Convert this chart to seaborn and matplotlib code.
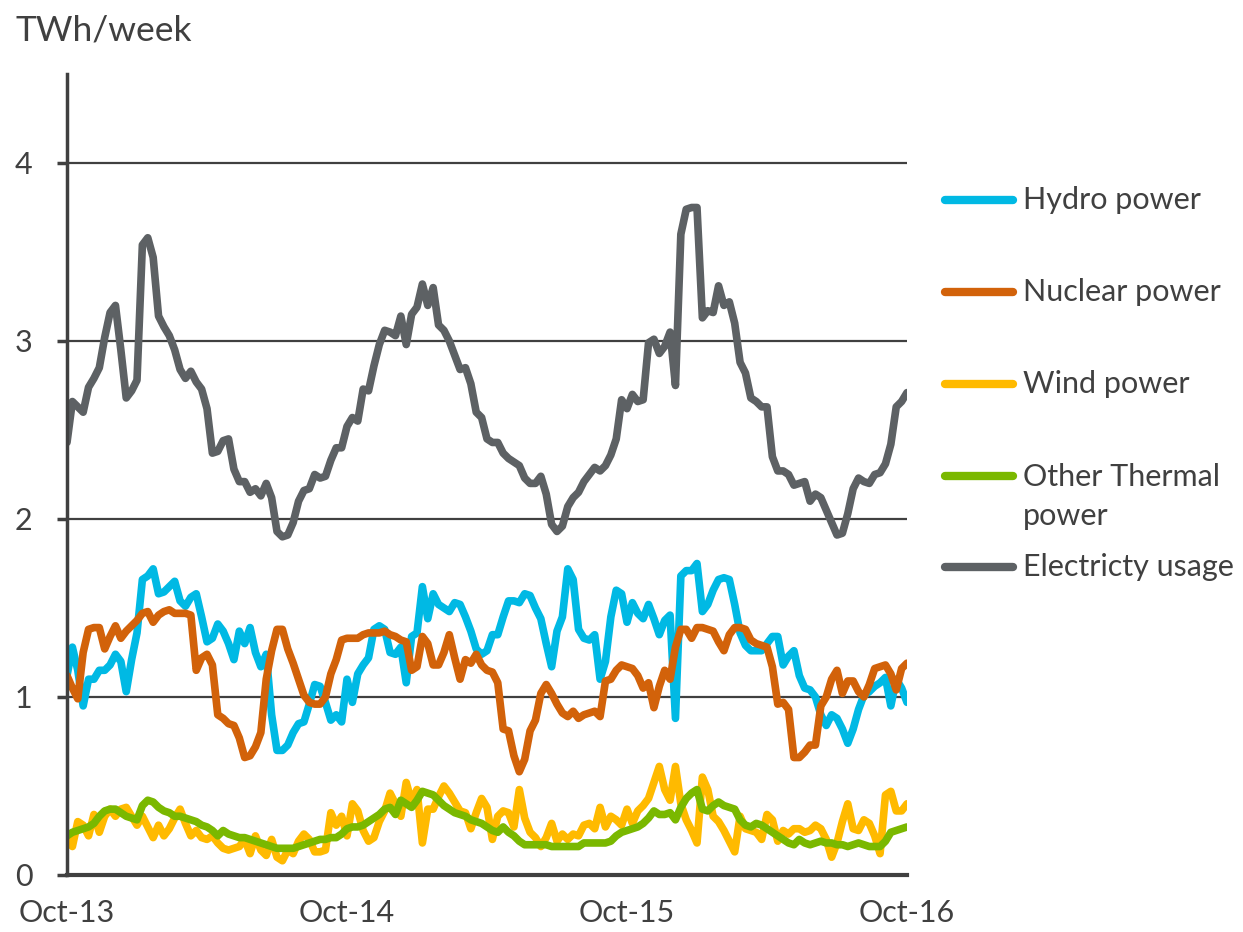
import numpy as np
import pandas as pd
import seaborn as sns
import matplotlib.pyplot as plt
from matplotlib.lines import Line2D

# weekly values, Oct 2013 - Oct 2016 (TWh/week)
weeks = np.arange(157)

hydro = [1.12, 1.28, 1.15, 0.95, 1.10, 1.10, 1.15, 1.15, 1.18, 1.24,
         1.20, 1.03, 1.21, 1.36, 1.66, 1.68, 1.72, 1.58, 1.59, 1.62,
         1.65, 1.54, 1.51, 1.56, 1.58, 1.45, 1.31, 1.33, 1.41, 1.37,
         1.30, 1.21, 1.37, 1.30, 1.39, 1.25, 1.17, 1.24, 0.90, 0.70,
         0.70, 0.73, 0.80, 0.85, 0.86, 0.96, 1.07, 1.06, 0.97, 0.87,
         0.90, 0.86, 1.10, 0.97, 1.13, 1.18, 1.22, 1.38, 1.40, 1.38,
         1.25, 1.24, 1.28, 1.08, 1.34, 1.36, 1.62, 1.44, 1.58, 1.52,
         1.50, 1.48, 1.53, 1.52, 1.45, 1.37, 1.27, 1.24, 1.26, 1.35,
         1.35, 1.45, 1.54, 1.54, 1.53, 1.58, 1.57, 1.50, 1.44, 1.30,
         1.17, 1.37, 1.45, 1.72, 1.66, 1.38, 1.33, 1.32, 1.35, 1.10,
         1.20, 1.45, 1.60, 1.58, 1.42, 1.53, 1.47, 1.44, 1.52, 1.44,
         1.35, 1.43, 1.46, 0.88, 1.68, 1.71, 1.71, 1.75, 1.48, 1.52,
         1.60, 1.66, 1.67, 1.66, 1.52, 1.36, 1.29, 1.26, 1.26, 1.26,
         1.30, 1.34, 1.34, 1.18, 1.23, 1.26, 1.12, 1.05, 1.04, 1.00,
         0.90, 0.84, 0.90, 0.88, 0.82, 0.74, 0.82, 0.93, 1.01, 1.03,
         1.06, 1.08, 1.11, 0.95, 1.10, 1.05, 0.97]

nuclear = [1.12, 1.05, 0.99, 1.25, 1.38, 1.39, 1.39, 1.27, 1.34, 1.40,
           1.33, 1.37, 1.40, 1.43, 1.47, 1.48, 1.42, 1.46, 1.48, 1.49,
           1.47, 1.47, 1.47, 1.46, 1.15, 1.22, 1.24, 1.18, 0.90, 0.88,
           0.85, 0.84, 0.77, 0.66, 0.67, 0.72, 0.80, 1.10, 1.26, 1.38,
           1.38, 1.27, 1.19, 1.10, 1.01, 0.97, 0.96, 0.96, 1.00, 1.13,
           1.21, 1.32, 1.33, 1.33, 1.33, 1.35, 1.36, 1.36, 1.36, 1.37,
           1.35, 1.34, 1.32, 1.31, 1.15, 1.17, 1.34, 1.30, 1.18, 1.18,
           1.25, 1.35, 1.22, 1.10, 1.21, 1.19, 1.24, 1.18, 1.15, 1.14,
           1.08, 0.82, 0.81, 0.67, 0.58, 0.65, 0.81, 0.87, 1.02, 1.07,
           1.02, 0.96, 0.91, 0.89, 0.92, 0.88, 0.90, 0.91, 0.92, 0.89,
           1.09, 1.10, 1.15, 1.18, 1.17, 1.16, 1.12, 1.05, 1.08, 0.94,
           1.06, 1.15, 1.10, 1.28, 1.38, 1.38, 1.33, 1.39, 1.39, 1.38,
           1.37, 1.31, 1.26, 1.35, 1.39, 1.39, 1.38, 1.32, 1.30, 1.29,
           1.28, 1.17, 0.96, 0.97, 0.93, 0.66, 0.66, 0.69, 0.73, 0.73,
           0.95, 1.00, 1.10, 1.15, 1.02, 1.09, 1.09, 1.03, 1.00, 1.07,
           1.16, 1.17, 1.18, 1.13, 1.04, 1.16, 1.19]

wind = [0.20, 0.16, 0.30, 0.28, 0.22, 0.34, 0.24, 0.33, 0.37, 0.33,
        0.37, 0.38, 0.33, 0.28, 0.33, 0.27, 0.21, 0.28, 0.22, 0.26,
        0.32, 0.37, 0.29, 0.22, 0.25, 0.21, 0.20, 0.22, 0.18, 0.15,
        0.14, 0.15, 0.16, 0.20, 0.12, 0.22, 0.14, 0.11, 0.20, 0.10,
        0.08, 0.14, 0.12, 0.19, 0.23, 0.20, 0.13, 0.13, 0.14, 0.35,
        0.28, 0.33, 0.22, 0.40, 0.36, 0.25, 0.19, 0.21, 0.30, 0.36,
        0.46, 0.40, 0.33, 0.52, 0.41, 0.48, 0.18, 0.37, 0.37, 0.44,
        0.50, 0.46, 0.41, 0.36, 0.35, 0.26, 0.35, 0.43, 0.38, 0.20,
        0.33, 0.36, 0.35, 0.27, 0.48, 0.32, 0.24, 0.21, 0.16, 0.21,
        0.29, 0.19, 0.23, 0.20, 0.23, 0.22, 0.28, 0.29, 0.26, 0.38,
        0.27, 0.33, 0.31, 0.28, 0.37, 0.29, 0.36, 0.39, 0.43, 0.52,
        0.61, 0.48, 0.42, 0.61, 0.40, 0.31, 0.25, 0.18, 0.55, 0.48,
        0.33, 0.30, 0.25, 0.19, 0.13, 0.33, 0.26, 0.25, 0.24, 0.20,
        0.34, 0.31, 0.19, 0.25, 0.23, 0.26, 0.26, 0.24, 0.25, 0.28,
        0.26, 0.20, 0.10, 0.18, 0.30, 0.40, 0.26, 0.25, 0.31, 0.29,
        0.22, 0.12, 0.45, 0.47, 0.36, 0.36, 0.40]

thermal = [0.22, 0.24, 0.25, 0.26, 0.27, 0.29, 0.33, 0.36, 0.37, 0.37,
           0.35, 0.33, 0.32, 0.31, 0.39, 0.42, 0.41, 0.38, 0.36, 0.35,
           0.33, 0.33, 0.32, 0.31, 0.30, 0.28, 0.27, 0.25, 0.22, 0.25,
           0.23, 0.22, 0.21, 0.21, 0.20, 0.19, 0.18, 0.17, 0.16, 0.15,
           0.15, 0.15, 0.15, 0.16, 0.17, 0.18, 0.19, 0.20, 0.20, 0.21,
           0.21, 0.23, 0.26, 0.27, 0.27, 0.28, 0.30, 0.32, 0.34, 0.37,
           0.38, 0.34, 0.42, 0.40, 0.38, 0.42, 0.47, 0.46, 0.45, 0.42,
           0.39, 0.37, 0.35, 0.34, 0.33, 0.31, 0.30, 0.29, 0.27, 0.25,
           0.24, 0.27, 0.24, 0.22, 0.19, 0.17, 0.17, 0.17, 0.17, 0.17,
           0.16, 0.16, 0.16, 0.16, 0.16, 0.16, 0.18, 0.18, 0.18, 0.18,
           0.18, 0.19, 0.22, 0.24, 0.25, 0.26, 0.27, 0.29, 0.32, 0.36,
           0.34, 0.34, 0.35, 0.31, 0.38, 0.43, 0.46, 0.48, 0.37, 0.36,
           0.39, 0.41, 0.39, 0.38, 0.37, 0.31, 0.28, 0.27, 0.29, 0.28,
           0.26, 0.24, 0.22, 0.20, 0.18, 0.17, 0.20, 0.18, 0.17, 0.18,
           0.19, 0.18, 0.18, 0.17, 0.17, 0.16, 0.17, 0.18, 0.17, 0.16,
           0.16, 0.16, 0.19, 0.24, 0.25, 0.26, 0.27]

usage = [2.43, 2.66, 2.63, 2.60, 2.74, 2.79, 2.85, 3.02, 3.16, 3.20,
         2.95, 2.68, 2.72, 2.78, 3.54, 3.58, 3.47, 3.14, 3.08, 3.03,
         2.95, 2.84, 2.79, 2.83, 2.77, 2.73, 2.62, 2.37, 2.38, 2.44,
         2.45, 2.28, 2.21, 2.21, 2.15, 2.17, 2.13, 2.20, 2.12, 1.93,
         1.90, 1.91, 1.98, 2.10, 2.16, 2.17, 2.25, 2.23, 2.24, 2.33,
         2.40, 2.40, 2.52, 2.57, 2.55, 2.73, 2.72, 2.86, 2.98, 3.06,
         3.05, 3.03, 3.14, 2.98, 3.15, 3.19, 3.32, 3.20, 3.30, 3.09,
         3.06, 3.00, 2.92, 2.84, 2.85, 2.76, 2.60, 2.57, 2.45, 2.43,
         2.43, 2.37, 2.34, 2.32, 2.30, 2.23, 2.20, 2.20, 2.24, 2.14,
         1.97, 1.93, 1.96, 2.07, 2.12, 2.15, 2.21, 2.25, 2.29, 2.27,
         2.30, 2.36, 2.45, 2.67, 2.62, 2.70, 2.66, 2.67, 2.99, 3.01,
         2.93, 2.97, 3.05, 2.75, 3.60, 3.74, 3.75, 3.75, 3.13, 3.17,
         3.16, 3.31, 3.20, 3.22, 3.10, 2.88, 2.82, 2.68, 2.66, 2.63,
         2.63, 2.35, 2.27, 2.27, 2.25, 2.19, 2.20, 2.21, 2.10, 2.14,
         2.12, 2.05, 1.98, 1.91, 1.92, 2.03, 2.17, 2.23, 2.21, 2.20,
         2.25, 2.26, 2.31, 2.42, 2.63, 2.66, 2.71]

series_names = ["Hydro power", "Nuclear power", "Wind power", "Other Thermal\npower", "Electricty usage"]
series_colors = ["#00B9E4", "#D2620A", "#FFBA00", "#7AB800", "#5D6164"]
tick_weeks = [0, 52, 104, 156]
tick_labels = ["Oct-13", "Oct-14", "Oct-15", "Oct-16"]

# long format table for seaborn
all_values = [hydro, nuclear, wind, thermal, usage]
df = pd.concat([pd.DataFrame({"week": weeks, "value": vals, "series": name})
                for name, vals in zip(series_names, all_values)], ignore_index=True)

sns.set_theme(style="white")
plt.rcParams['font.family'] = ['Lato', 'DejaVu Sans']
text_col = "#404040"

W, H = 1243, 932
fig = plt.figure(figsize=(W / 100, H / 100), dpi=100)
ax = fig.add_axes([67 / W, 1 - 875 / H, (907 - 67) / W, (875 - 74) / H])

sns.lineplot(data=df, x="week", y="value", hue="series", hue_order=series_names,
             palette=series_colors, linewidth=5.5, errorbar=None, legend=False, ax=ax,
             solid_capstyle="round", solid_joinstyle="round")

ax.set_xlim(0, 156)
ax.set_ylim(0, 4.5)
ax.set_xlabel("")
ax.set_ylabel("")
ax.set_yticks([0, 1, 2, 3, 4])
ax.set_xticks(tick_weeks)
ax.set_xticklabels(tick_labels)

# horizontal gridlines only
ax.yaxis.grid(True, color=text_col, linewidth=1.6)
ax.xaxis.grid(False)
ax.set_axisbelow(True)

for side in ["top", "right"]:
    ax.spines[side].set_visible(False)
ax.spines["left"].set_color(text_col)
ax.spines["left"].set_linewidth(2.5)
ax.spines["bottom"].set_color(text_col)
ax.spines["bottom"].set_linewidth(3)

ax.tick_params(axis="y", direction="out", length=7, width=2.5, color=text_col,
               pad=18, labelsize=22, labelcolor=text_col, left=True)
ax.tick_params(axis="x", length=0, pad=17, labelsize=22, labelcolor=text_col)

fig.text(15 / W, 1 - 30 / H, "TWh/week", fontsize=25.5, color=text_col, va="center", ha="left")

# legend drawn by hand to match the spacing of the original
legend_y = [200, 292, 384, 496.5, 567]
for name, col, y in zip(series_names, series_colors, legend_y):
    line_y = 476 if "\n" in name else y
    fig.add_artist(Line2D([945 / W, 1013 / W], [1 - line_y / H, 1 - line_y / H], color=col,
                          linewidth=6, solid_capstyle="round", transform=fig.transFigure))
    fig.text(1023 / W, 1 - y / H, name, fontsize=22, color=text_col, va="center",
             ha="left", linespacing=1.5)

fig.savefig("out.png", dpi=100)
